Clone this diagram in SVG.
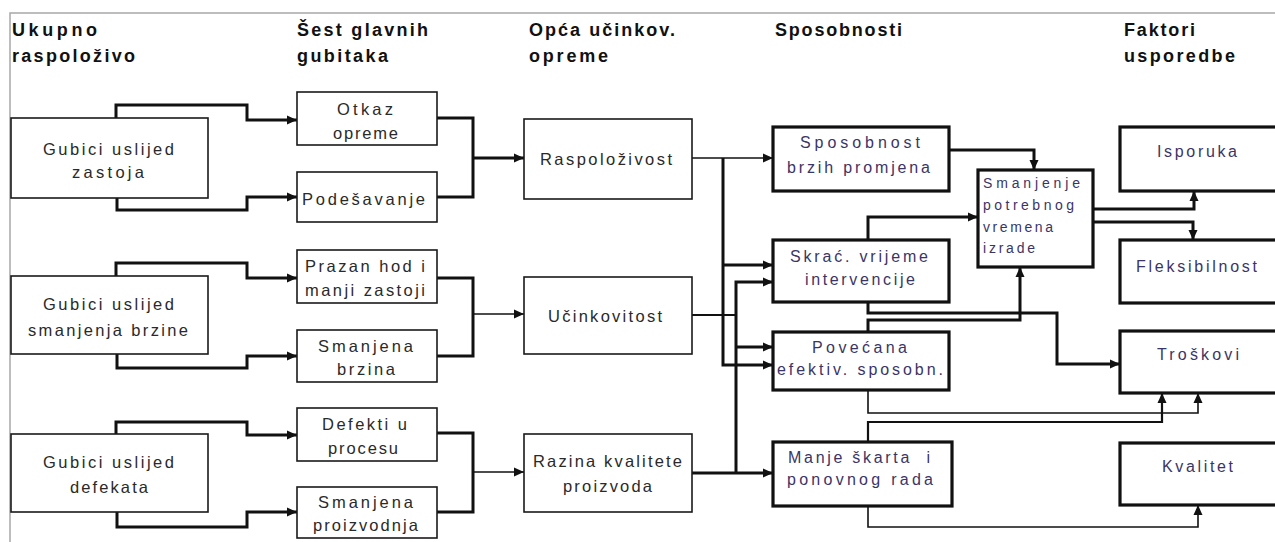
<svg xmlns="http://www.w3.org/2000/svg" width="1275" height="542" viewBox="0 0 1275 542">
<style>
.frame{stroke:#a8a8a8;stroke-width:1.5;fill:none}
.box{fill:#fff;stroke:#1a1a1a;stroke-width:1.6}
.bx{fill:#fff;stroke:#111;stroke-width:3.2}
.hd{font-family:"Liberation Sans",Arial,sans-serif;font-weight:bold;font-size:18px;fill:#111}
.t{font-family:"Liberation Sans",Arial,sans-serif;font-size:16.5px;fill:#2a2a2a}
.tr{font-family:"Liberation Sans",Arial,sans-serif;font-size:16px;fill:#3b3566}
.ts{font-family:"Liberation Sans",Arial,sans-serif;font-size:14px;fill:#3b3566}
.c{fill:none;stroke:#111;stroke-width:3}
.m{fill:none;stroke:#111;stroke-width:2.2}
.n{fill:none;stroke:#111;stroke-width:1.6}
.a{marker-end:url(#ah)}
</style>
<defs>
<marker id="ah" markerUnits="userSpaceOnUse" markerWidth="11" markerHeight="10" refX="10" refY="5" orient="auto">
<path d="M0,0.5 L10,5 L0,9.5 z" fill="#111"/>
</marker>
</defs>
<rect width="1275" height="542" fill="#fff"/>
<path class="frame" d="M10,542 V13 H1275"/>

<g id="headers">
<text class="hd" x="12" y="36" textLength="85" lengthAdjust="spacing">Ukupno</text>
<text class="hd" x="12" y="62" textLength="123" lengthAdjust="spacing">raspoloživo</text>
<text class="hd" x="297" y="36" textLength="131" lengthAdjust="spacing">Šest glavnih</text>
<text class="hd" x="297" y="62" textLength="91" lengthAdjust="spacing">gubitaka</text>
<text class="hd" x="529" y="36" textLength="146" lengthAdjust="spacing">Opća učinkov.</text>
<text class="hd" x="529" y="62" textLength="79" lengthAdjust="spacing">opreme</text>
<text class="hd" x="775" y="36" textLength="127" lengthAdjust="spacing">Sposobnosti</text>
<text class="hd" x="1124" y="36" textLength="71" lengthAdjust="spacing">Faktori</text>
<text class="hd" x="1124" y="62" textLength="111" lengthAdjust="spacing">usporedbe</text>
</g>

<g id="connectors">
<path class="c a" d="M116,118 V105 H247 V120 H297"/>
<path class="c a" d="M117,198 V210 H247 V197 H297"/>
<path class="c" d="M437,118 H473 V197 H437"/>
<path class="c a" d="M473,158 H524"/>
<path class="c a" d="M116,276 V263 H247 V278 H297"/>
<path class="c a" d="M117,354 V368 H247 V356 H297"/>
<path class="c" d="M437,278 H473 V356 H437"/>
<path class="n a" d="M473,314 H524"/>
<path class="c a" d="M116,434 V422 H247 V435 H297"/>
<path class="c a" d="M117,512 V527 H247 V512 H297"/>
<path class="c" d="M437,433 H473 V512 H437"/>
<path class="n a" d="M473,472 H524"/>
<path class="n a" d="M692,158 H773"/>
<path class="c a" d="M723,158 V365 H773"/>
<path class="c a" d="M723,265 H773"/>
<path class="m" d="M692,315 H736"/>
<path class="c a" d="M736,473 V282 H773"/>
<path class="c a" d="M736,347 H773"/>
<path class="c a" d="M692,473 H773"/>
<path class="c a" d="M949,150 H1034 V170"/>
<path class="c a" d="M868,240 V217 H978"/>
<path class="c a" d="M1093,209 H1194 V191"/>
<path class="c a" d="M1093,222 H1193 V240"/>
<path class="c a" d="M868,302 V313 H1057 V364 H1120"/>
<path class="c a" d="M868,332 V320 H1020 V267"/>
<path class="n a" d="M868,390 V413 H1198 V393"/>
<path class="m a" d="M868,442 V422 H1162 V393"/>
<path class="n a" d="M868,506 V527 H1198 V505"/>
</g>

<g id="n-gubici-zastoja"><rect class="box" x="11" y="118" width="197" height="80"/>
<text class="t" x="43" y="155" textLength="131" lengthAdjust="spacing">Gubici uslijed</text>
<text class="t" x="72" y="178" textLength="72" lengthAdjust="spacing">zastoja</text></g>
<g id="n-gubici-brzine"><rect class="box" x="11" y="276" width="197" height="78"/>
<text class="t" x="43" y="310" textLength="131" lengthAdjust="spacing">Gubici uslijed</text>
<text class="t" x="28" y="336" textLength="160" lengthAdjust="spacing">smanjenja brzine</text></g>
<g id="n-gubici-defekata"><rect class="box" x="11" y="434" width="197" height="78"/>
<text class="t" x="43" y="468" textLength="131" lengthAdjust="spacing">Gubici uslijed</text>
<text class="t" x="70" y="493" textLength="78" lengthAdjust="spacing">defekata</text></g>

<g id="n-otkaz"><rect class="box" x="297" y="92" width="140" height="53"/>
<text class="t" x="337" y="115" textLength="56" lengthAdjust="spacing">Otkaz</text>
<text class="t" x="333" y="139" textLength="65" lengthAdjust="spacing">opreme</text></g>
<g id="n-podesavanje"><rect class="box" x="297" y="172" width="140" height="50"/>
<text class="t" x="302" y="205" textLength="123" lengthAdjust="spacing">Podešavanje</text></g>
<g id="n-prazan"><rect class="box" x="297" y="250" width="140" height="53"/>
<text class="t" x="305" y="272" textLength="120" lengthAdjust="spacing">Prazan hod i</text>
<text class="t" x="305" y="296" textLength="120" lengthAdjust="spacing">manji zastoji</text></g>
<g id="n-smanjena-brzina"><rect class="box" x="297" y="330" width="140" height="52"/>
<text class="t" x="318" y="352" textLength="95" lengthAdjust="spacing">Smanjena</text>
<text class="t" x="337" y="375" textLength="58" lengthAdjust="spacing">brzina</text></g>
<g id="n-defekti"><rect class="box" x="297" y="408" width="140" height="53"/>
<text class="t" x="322" y="430" textLength="85" lengthAdjust="spacing">Defekti u</text>
<text class="t" x="328" y="454" textLength="70" lengthAdjust="spacing">procesu</text></g>
<g id="n-smanjena-proizvodnja"><rect class="box" x="297" y="487" width="140" height="51"/>
<text class="t" x="318" y="508" textLength="95" lengthAdjust="spacing">Smanjena</text>
<text class="t" x="313" y="531" textLength="105" lengthAdjust="spacing">proizvodnja</text></g>

<g id="n-raspolozivost"><rect class="box" x="524" y="119" width="168" height="80"/>
<text class="t" x="540" y="165" textLength="132" lengthAdjust="spacing">Raspoloživost</text></g>
<g id="n-ucinkovitost"><rect class="box" x="524" y="277" width="168" height="77"/>
<text class="t" x="548" y="322" textLength="114" lengthAdjust="spacing">Učinkovitost</text></g>
<g id="n-razina"><rect class="box" x="524" y="434" width="168" height="78"/>
<text class="t" x="533" y="467" textLength="149" lengthAdjust="spacing">Razina kvalitete</text>
<text class="t" x="563" y="492" textLength="89" lengthAdjust="spacing">proizvoda</text></g>

<g id="n-sposobnost"><rect class="bx" x="773" y="127" width="176" height="64"/>
<text class="tr" x="800" y="148" textLength="120" lengthAdjust="spacing">Sposobnost</text>
<text class="tr" x="787" y="173" textLength="143" lengthAdjust="spacing">brzih promjena</text></g>
<g id="n-skrac"><rect class="bx" x="773" y="240" width="176" height="62"/>
<text class="tr" x="790" y="262" textLength="138" lengthAdjust="spacing">Skrać. vrijeme</text>
<text class="tr" x="805" y="285" textLength="110" lengthAdjust="spacing">intervencije</text></g>
<g id="n-povecana"><rect class="bx" x="773" y="332" width="176" height="58"/>
<text class="tr" x="812" y="353" textLength="95" lengthAdjust="spacing">Povećana</text>
<text class="tr" x="777" y="375" textLength="166" lengthAdjust="spacing">efektiv. sposobn.</text></g>
<g id="n-manje"><rect class="bx" x="773" y="442" width="179" height="64"/>
<text class="tr" x="788" y="463" textLength="142" lengthAdjust="spacing" xml:space="preserve">Manje škarta  i</text>
<text class="tr" x="787" y="485" textLength="146" lengthAdjust="spacing">ponovnog rada</text></g>

<g id="n-smanjenje"><rect class="bx" x="978" y="170" width="115" height="97"/>
<text class="ts" x="983" y="188" textLength="97" lengthAdjust="spacing">Smanjenje</text>
<text class="ts" x="983" y="210" textLength="91" lengthAdjust="spacing">potrebnog</text>
<text class="ts" x="983" y="232" textLength="70" lengthAdjust="spacing">vremena</text>
<text class="ts" x="983" y="253" textLength="52" lengthAdjust="spacing">izrade</text></g>

<g id="n-isporuka"><rect class="bx" x="1120" y="127" width="170" height="64"/>
<text class="tr" x="1157" y="157" textLength="80" lengthAdjust="spacing">Isporuka</text></g>
<g id="n-fleksibilnost"><rect class="bx" x="1120" y="240" width="170" height="63"/>
<text class="tr" x="1136" y="272" textLength="121" lengthAdjust="spacing">Fleksibilnost</text></g>
<g id="n-troskovi"><rect class="bx" x="1120" y="331" width="170" height="62"/>
<text class="tr" x="1157" y="360" textLength="82" lengthAdjust="spacing">Troškovi</text></g>
<g id="n-kvalitet"><rect class="bx" x="1120" y="443" width="170" height="62"/>
<text class="tr" x="1162" y="472" textLength="71" lengthAdjust="spacing">Kvalitet</text></g>
</svg>
